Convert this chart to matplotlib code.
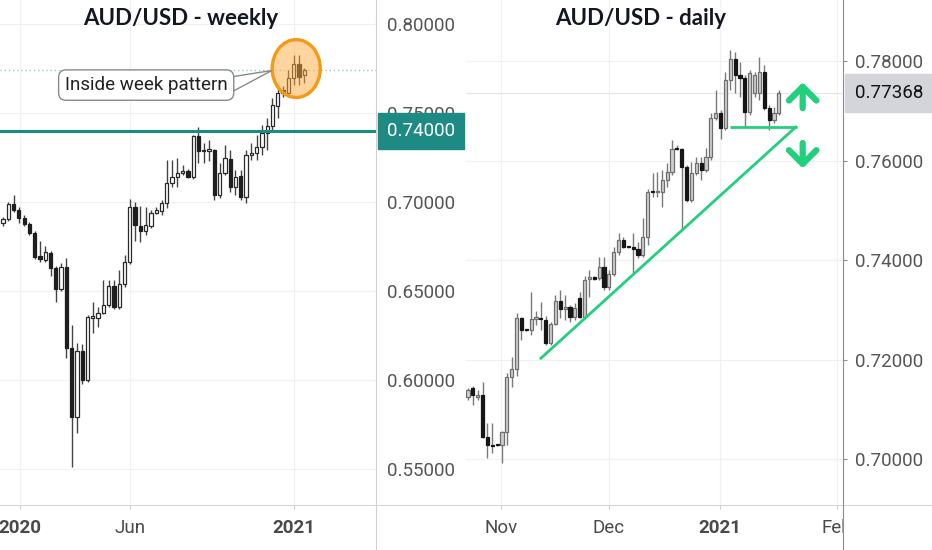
import matplotlib
matplotlib.use('Agg')
import matplotlib.pyplot as plt
from matplotlib.patches import Ellipse, Polygon, Rectangle
from matplotlib.lines import Line2D
import numpy as np

# ---------------- weekly AUD/USD (Dec 2019 - Jan 2021) ----------------
W_OPEN = [0.6882, 0.6904, 0.6989, 0.6955, 0.6910, 0.6876, 0.6826, 0.6697, 0.6674, 0.6713,
          0.6629, 0.6511, 0.6635, 0.6180, 0.5792, 0.6163, 0.6000, 0.6350, 0.6348, 0.6376,
          0.6421, 0.6528, 0.6410, 0.6539, 0.6663, 0.6972, 0.6865, 0.6837, 0.6865, 0.6938,
          0.6950, 0.6994, 0.7107, 0.7140, 0.7163, 0.7174, 0.7140, 0.7371, 0.7287, 0.7287,
          0.7292, 0.7039, 0.7163, 0.7242, 0.7084, 0.7146, 0.7028, 0.7264, 0.7275, 0.7309,
          0.7388, 0.7427, 0.7539, 0.7629, 0.7612, 0.7697, 0.7775, 0.7713]
W_HIGH = [0.6915, 0.7000, 0.7039, 0.6972, 0.6925, 0.6890, 0.6840, 0.6781, 0.6753, 0.6725,
          0.6640, 0.6657, 0.6685, 0.6309, 0.6208, 0.6202, 0.6365, 0.6438, 0.6410, 0.6562,
          0.6562, 0.6562, 0.6618, 0.6700, 0.7017, 0.7000, 0.6978, 0.6972, 0.6955, 0.6972,
          0.7011, 0.7236, 0.7236, 0.7247, 0.7208, 0.7185, 0.7376, 0.7421, 0.7331, 0.7348,
          0.7298, 0.7219, 0.7320, 0.7292, 0.7180, 0.7180, 0.7292, 0.7331, 0.7376, 0.7433,
          0.7472, 0.7584, 0.7657, 0.7650, 0.7742, 0.7826, 0.7826, 0.7753]
W_LOW = [0.6865, 0.6895, 0.6945, 0.6880, 0.6865, 0.6815, 0.6680, 0.6663, 0.6663, 0.6585,
         0.6438, 0.6500, 0.6124, 0.5511, 0.5702, 0.5980, 0.5990, 0.6264, 0.6298, 0.6370,
         0.6410, 0.6400, 0.6400, 0.6520, 0.6650, 0.6780, 0.6775, 0.6815, 0.6854, 0.6930,
         0.6927, 0.6966, 0.7084, 0.7084, 0.7152, 0.7135, 0.7130, 0.7219, 0.7219, 0.7230,
         0.7011, 0.7022, 0.7150, 0.7056, 0.7039, 0.7011, 0.6994, 0.7236, 0.7236, 0.7264,
         0.7292, 0.7399, 0.7472, 0.7590, 0.7601, 0.7657, 0.7657, 0.7669]
W_CLOSE = [0.6904, 0.6989, 0.6955, 0.6910, 0.6876, 0.6826, 0.6691, 0.6680, 0.6719, 0.6629,
           0.6511, 0.6635, 0.6180, 0.5792, 0.6163, 0.6000, 0.6354, 0.6358, 0.6376, 0.6421,
           0.6528, 0.6410, 0.6539, 0.6663, 0.6972, 0.6871, 0.6837, 0.6871, 0.6938, 0.6955,
           0.6994, 0.7107, 0.7140, 0.7163, 0.7174, 0.7140, 0.7371, 0.7287, 0.7290, 0.7298,
           0.7039, 0.7163, 0.7247, 0.7084, 0.7140, 0.7028, 0.7264, 0.7275, 0.7309, 0.7388,
           0.7427, 0.7545, 0.7612, 0.7612, 0.7697, 0.7775, 0.7702, 0.7742]
W_TICK_POS = [3.2, 24.1, 55.1]
W_TICK_LABELS = ['2020', 'Jun', '2021']
W_YTICKS = [0.55, 0.60, 0.65, 0.70, 0.75, 0.80]
W_LEVEL = 0.74
W_LAST = 0.7742

# ---------------- daily AUD/USD (late Oct 2020 - mid Jan 2021) ----------------
D_OPEN = [0.71250, 0.71431, 0.71250, 0.71290, 0.70445, 0.70284, 0.70280, 0.70284, 0.70545, 0.71652,
          0.71813, 0.72839, 0.72598, 0.72598, 0.72819, 0.72830, 0.72799, 0.72336, 0.72719, 0.73181,
          0.73020, 0.73061, 0.72859, 0.73242, 0.72859, 0.73624, 0.73664, 0.73644, 0.73865, 0.73463,
          0.73724, 0.74167, 0.74409, 0.74268, 0.74268, 0.74228, 0.74107, 0.74469, 0.75374, 0.75370,
          0.75374, 0.75616, 0.75777, 0.76240, 0.76240, 0.75877, 0.75213, 0.75757, 0.75958, 0.75817,
          0.76079, 0.76863, 0.76964, 0.76662, 0.77628, 0.78050, 0.77728, 0.77668, 0.76984, 0.77366,
          0.77366, 0.77789, 0.77064, 0.76823, 0.76964]
D_HIGH = [0.71431, 0.71471, 0.71391, 0.71551, 0.70727, 0.70727, 0.70290, 0.70566, 0.71733, 0.72055,
          0.72940, 0.72859, 0.72610, 0.73362, 0.72980, 0.73161, 0.72879, 0.72759, 0.73302, 0.73403,
          0.73302, 0.73101, 0.73141, 0.73362, 0.73684, 0.73805, 0.73684, 0.74067, 0.74067, 0.73805,
          0.74268, 0.74549, 0.74469, 0.74290, 0.74549, 0.74368, 0.74851, 0.75435, 0.75757, 0.75777,
          0.75817, 0.75958, 0.76421, 0.76320, 0.76260, 0.75918, 0.75978, 0.76079, 0.76079, 0.76260,
          0.76964, 0.77427, 0.77024, 0.77789, 0.78231, 0.78191, 0.77990, 0.77728, 0.77829, 0.77789,
          0.78091, 0.77930, 0.77125, 0.77085, 0.77427]
D_LOW = [0.71190, 0.71089, 0.71190, 0.70420, 0.70022, 0.70123, 0.70264, 0.69922, 0.70284, 0.71451,
         0.71672, 0.72397, 0.72580, 0.72497, 0.72698, 0.72598, 0.72296, 0.72296, 0.72698, 0.72839,
         0.72799, 0.72759, 0.72799, 0.72839, 0.72839, 0.73262, 0.73604, 0.73604, 0.73403, 0.73403,
         0.73684, 0.74107, 0.74248, 0.74248, 0.73745, 0.74047, 0.74067, 0.74308, 0.75274, 0.75274,
         0.75073, 0.75475, 0.75716, 0.76219, 0.74630, 0.75173, 0.75173, 0.75716, 0.75616, 0.75777,
         0.76018, 0.76823, 0.76441, 0.76622, 0.77427, 0.77366, 0.77286, 0.76682, 0.76924, 0.77286,
         0.77225, 0.77024, 0.76622, 0.76763, 0.76924]
D_CLOSE = [0.71391, 0.71290, 0.71290, 0.70445, 0.70284, 0.70270, 0.70274, 0.70545, 0.71652, 0.71813,
           0.72839, 0.72598, 0.72590, 0.72819, 0.72859, 0.72819, 0.72336, 0.72719, 0.73181, 0.73020,
           0.73061, 0.72859, 0.73040, 0.72859, 0.73604, 0.73664, 0.73624, 0.73865, 0.73463, 0.73724,
           0.74167, 0.74409, 0.74268, 0.74260, 0.74228, 0.74107, 0.74469, 0.75374, 0.75370, 0.75374,
           0.75616, 0.75777, 0.76240, 0.76235, 0.75877, 0.75213, 0.75757, 0.75958, 0.75817, 0.76079,
           0.76863, 0.76964, 0.76662, 0.77628, 0.78050, 0.77728, 0.77668, 0.76984, 0.77769, 0.77728,
           0.77789, 0.77064, 0.76823, 0.76964, 0.77368]
D_TICK_POS = [6.8, 29.0, 51.9, 75.9]
D_TICK_LABELS = ['Nov', 'Dec', '2021', 'Feb']
D_YTICKS = [0.70, 0.72, 0.74, 0.76, 0.78]
D_LAST = 0.77368
TREND_X = [14.8, 67.7]
TREND_Y = [0.7201, 0.7670]
SUPPORT_X = [53.9, 67.7]
SUPPORT_Y = [0.7668, 0.7668]
ARROW_X = 68.9
ARROW_UP = [0.7706, 0.7758]
ARROW_DOWN = [0.7636, 0.7585]

GREEN = '#22cf7c'
TEAL = '#1e8a84'
FONT = 'Roboto'

plt.rcParams['font.family'] = [FONT, 'DejaVu Sans']

fig = plt.figure(figsize=(9.32, 5.5), dpi=100)
fig.patch.set_facecolor('white')
FW, FH = 932.0, 550.0


def candles(ax, o, h, l, c, width, up_face, up_edge, dn, wick, min_h):
    o, h, l, c = map(np.asarray, (o, h, l, c))
    x = np.arange(len(o))
    up = c >= o
    ax.vlines(x, l, h, color=wick, lw=1.0, zorder=3)
    bottom = np.minimum(o, c)
    height = np.maximum(np.abs(c - o), min_h)
    ax.bar(x[up], height[up], width, bottom[up], color=up_face, edgecolor=up_edge,
           linewidth=0.9, zorder=4)
    ax.bar(x[~up], height[~up], width, bottom[~up], color=dn, edgecolor=dn,
           linewidth=0.9, zorder=4)


def style_axis(ax, spine_color, ytick_len, ypad):
    for s in ('top', 'left'):
        ax.spines[s].set_visible(False)
    ax.spines['right'].set_color(spine_color)
    ax.spines['bottom'].set_color('#d6d6d6')
    ax.yaxis.tick_right()
    ax.tick_params(axis='y', length=ytick_len, color=spine_color, pad=ypad,
                   labelsize=13.5, labelcolor='#555555')
    ax.tick_params(axis='x', length=3, color='#cccccc', pad=7,
                   labelsize=13.5, labelcolor='#4a4a4a')
    ax.grid(True, color='#f1f1f1', lw=0.9, zorder=0)
    ax.set_axisbelow(True)


# ---------------- weekly panel ----------------
ax1 = fig.add_axes([0, 45 / FH, 376 / FW, 505 / FH])
ax1.set_xlim(-0.57, 70.6)
ax1.set_ylim(0.5298, 0.8135)
style_axis(ax1, '#d0d0d0', 0, 8)
ax1.set_yticks(W_YTICKS)
ax1.set_yticklabels(['%.5f' % v for v in W_YTICKS])
ax1.set_xticks(W_TICK_POS)
ax1.set_xticklabels(W_TICK_LABELS)
for t in ax1.get_xticklabels():
    if t.get_text().isdigit():
        t.set_fontweight('bold')

candles(ax1, W_OPEN, W_HIGH, W_LOW, W_CLOSE, 0.62, 'white', '#2a2a2a', '#1e1e1e', '#444444', 0.0006)
ax1.axhline(W_LAST, color='#8fd0d0', lw=1.0, ls=(0, (1, 2)), zorder=1)
ax1.axhline(W_LEVEL, color=TEAL, lw=2.2, zorder=5)
ax1.text(1 + 11 / 376, W_LEVEL, '%.5f' % W_LEVEL, transform=ax1.get_yaxis_transform(),
         ha='left', va='center', fontsize=13.5, color='white', zorder=10, clip_on=False,
         bbox=dict(boxstyle='square,pad=0.47', fc=TEAL, ec=TEAL))

ax1.add_patch(Ellipse((55.5, 0.7750), 9.1, 0.0325, fc=(1.0, 0.68, 0.25, 0.5),
                      ec='#f59a16', lw=2.4, zorder=6))
ax1.add_patch(Polygon([(43.0, 0.7702), (50.9, 0.7739), (43.0, 0.7614)], closed=True,
                      fc='white', ec='#8a8a8a', lw=1.0, zorder=7))
ax1.text(27.1, 0.7657, 'Inside week pattern', ha='center', va='center', fontsize=13.5,
         color='#222222', zorder=8,
         bbox=dict(boxstyle='round,pad=0.33,rounding_size=0.4', fc='white', ec='#8a8a8a', lw=1.0))
ax1.text(0.481, 0.964, 'AUD/USD - weekly', transform=ax1.transAxes, ha='center', va='center',
         fontsize=16, fontweight='bold', family='Lato', color='#131722', zorder=9)

# ---------------- daily panel ----------------
ax2 = fig.add_axes([466 / FW, 45 / FH, 377 / FW, 505 / FH])
ax2.set_xlim(-0.41, 77.2)
ax2.set_ylim(0.69076, 0.79237)
style_axis(ax2, '#8c8c8c', 3, 6)
ax2.set_yticks(D_YTICKS)
ax2.set_yticklabels(['%.5f' % v for v in D_YTICKS])
ax2.set_xticks(D_TICK_POS)
ax2.set_xticklabels(D_TICK_LABELS)
for t in ax2.get_xticklabels():
    if t.get_text().isdigit():
        t.set_fontweight('bold')

candles(ax2, D_OPEN, D_HIGH, D_LOW, D_CLOSE, 0.66, '#cfcfcf', '#6e6e6e', '#161616', '#7a7a7a', 0.0002)
ax2.axhline(D_LAST, color='#e6e6e6', lw=0.9, zorder=1)
ax2.plot(TREND_X, TREND_Y, color=GREEN, lw=2.0, zorder=6, solid_capstyle='butt')
ax2.plot(SUPPORT_X, SUPPORT_Y, color=GREEN, lw=2.0, zorder=6, solid_capstyle='butt')
ax2.annotate('', xy=(ARROW_X, ARROW_UP[1]), xytext=(ARROW_X, ARROW_UP[0]),
             arrowprops=dict(arrowstyle='->,head_length=0.45,head_width=0.45', color=GREEN,
                             lw=4.5, mutation_scale=22, shrinkA=0, shrinkB=0), zorder=7)
ax2.annotate('', xy=(ARROW_X, ARROW_DOWN[1]), xytext=(ARROW_X, ARROW_DOWN[0]),
             arrowprops=dict(arrowstyle='->,head_length=0.45,head_width=0.45', color=GREEN,
                             lw=4.5, mutation_scale=22, shrinkA=0, shrinkB=0), zorder=7)
ax2.text(1 + 12 / 377, D_LAST, '%.5f' % D_LAST, transform=ax2.get_yaxis_transform(),
         ha='left', va='center', fontsize=13.5, color='#111111', zorder=10, clip_on=False,
         bbox=dict(boxstyle='square,pad=0.52', fc='#d3d5db', ec='#d3d5db'))
ax2.text(0.464, 0.964, 'AUD/USD - daily', transform=ax2.transAxes, ha='center', va='center',
         fontsize=16, fontweight='bold', family='Lato', color='#131722', zorder=9)

# price-scale area decorations (cover clipped time label, extend axis lines)
fig.add_artist(Rectangle((843.5 / FW, 0), 88.5 / FW, 45 / FH, transform=fig.transFigure,
                         fc='white', ec='none', zorder=5))
fig.add_artist(Line2D([376 / FW, 466 / FW], [45 / FH, 45 / FH], color='#d6d6d6', lw=0.8,
                      transform=fig.transFigure, zorder=6))
fig.add_artist(Line2D([843 / FW, 932 / FW], [45 / FH, 45 / FH], color='#d6d6d6', lw=0.8,
                      transform=fig.transFigure, zorder=6))
fig.add_artist(Line2D([376 / FW, 376 / FW], [0, 45 / FH], color='#d0d0d0', lw=0.8,
                      transform=fig.transFigure, zorder=6))
fig.add_artist(Line2D([843 / FW, 843 / FW], [0, 45 / FH], color='#8c8c8c', lw=0.8,
                      transform=fig.transFigure, zorder=6))

fig.savefig('out.png', dpi=100, facecolor='white')
